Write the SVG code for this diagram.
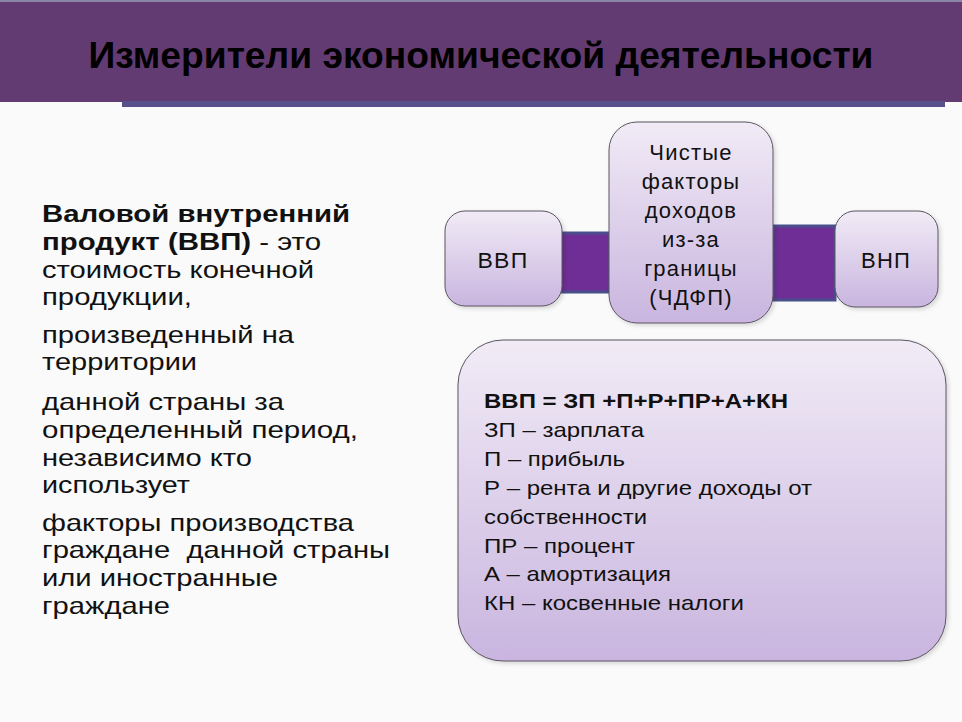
<svg xmlns="http://www.w3.org/2000/svg" width="962" height="722" viewBox="0 0 962 722">
<style>
.box{stroke:#5a5560;stroke-width:1}
.bar{fill:#6E2E96;stroke:#4B4E8C;stroke-width:3}
.t{font-family:"Liberation Sans",Arial,sans-serif;fill:#111}
.lt{font-size:24px}
.ct{font-size:22px;text-anchor:middle;letter-spacing:1.2px}
.bt{font-size:21px}
</style>
<defs>
<linearGradient id="g" x1="0" y1="0" x2="0" y2="1">
<stop offset="0" stop-color="#f1ebf6"/>
<stop offset="1" stop-color="#c9b5df"/>
</linearGradient>
<filter id="sh" x="-10%" y="-10%" width="130%" height="130%">
<feDropShadow dx="2" dy="2" stdDeviation="2" flood-color="#000" flood-opacity="0.15"/>
</filter>
</defs>
<rect width="962" height="722" fill="#fafafa"/>
<g id="header">
<rect x="0" y="0" width="962" height="102" fill="#633B73"/>
<rect x="0" y="0" width="962" height="2" fill="#8a86a8"/>
<rect x="122" y="101" width="823" height="6" fill="#58508a"/>
<text x="481" y="68" text-anchor="middle" font-family="'Liberation Sans',Arial,sans-serif" font-weight="bold" font-size="37" fill="#000" textLength="785" lengthAdjust="spacingAndGlyphs">Измерители экономической деятельности</text>
</g>
<g id="definition" class="t lt">
<text x="42" y="222" font-weight="bold" textLength="308" lengthAdjust="spacingAndGlyphs">Валовой внутренний</text>
<text x="42" y="250" textLength="279" lengthAdjust="spacingAndGlyphs"><tspan font-weight="bold">продукт (ВВП)</tspan> - это</text>
<text x="42" y="278" textLength="272" lengthAdjust="spacingAndGlyphs">стоимость конечной</text>
<text x="42" y="305" textLength="150" lengthAdjust="spacingAndGlyphs">продукции,</text>
<text x="42" y="343" textLength="252" lengthAdjust="spacingAndGlyphs">произведенный на</text>
<text x="42" y="370" textLength="155" lengthAdjust="spacingAndGlyphs">территории</text>
<text x="42" y="410" textLength="242" lengthAdjust="spacingAndGlyphs">данной страны за</text>
<text x="42" y="438" textLength="316" lengthAdjust="spacingAndGlyphs">определенный период,</text>
<text x="42" y="466" textLength="210" lengthAdjust="spacingAndGlyphs">независимо кто</text>
<text x="42" y="493" textLength="148" lengthAdjust="spacingAndGlyphs">использует</text>
<text x="42" y="531" textLength="312" lengthAdjust="spacingAndGlyphs">факторы производства</text>
<text x="42" y="558" xml:space="preserve" textLength="348" lengthAdjust="spacingAndGlyphs">граждане  данной страны</text>
<text x="42" y="586" textLength="236" lengthAdjust="spacingAndGlyphs">или иностранные</text>
<text x="42" y="614" textLength="128" lengthAdjust="spacingAndGlyphs">граждане</text>
</g>
<g id="connectors">
<rect class="bar" x="556" y="233" width="54" height="59"/>
<rect class="bar" x="773" y="226" width="62" height="74"/>
</g>
<g id="vvp">
<rect class="box" x="445" y="211" width="117" height="95" rx="20" fill="url(#g)" filter="url(#sh)"/>
<text class="t ct" x="503" y="268" textLength="51" lengthAdjust="spacingAndGlyphs">ВВП</text>
</g>
<g id="chdfp">
<rect class="box" x="609" y="122" width="164" height="201" rx="28" fill="url(#g)" filter="url(#sh)"/>
<text class="t ct" x="691" y="160">Чистые</text>
<text class="t ct" x="691" y="189">факторы</text>
<text class="t ct" x="691" y="218">доходов</text>
<text class="t ct" x="691" y="247">из-за</text>
<text class="t ct" x="691" y="276">границы</text>
<text class="t ct" x="691" y="305">(ЧДФП)</text>
</g>
<g id="vnp">
<rect class="box" x="835" y="211" width="103" height="96" rx="20" fill="url(#g)" filter="url(#sh)"/>
<text class="t ct" x="886" y="268" textLength="50" lengthAdjust="spacingAndGlyphs">ВНП</text>
</g>
<g id="formula">
<rect class="box" x="458" y="340" width="488" height="321" rx="45" fill="url(#g)" filter="url(#sh)"/>
<text class="t bt" x="484" y="408" font-weight="bold" textLength="304" lengthAdjust="spacingAndGlyphs">ВВП = ЗП +П+Р+ПР+А+КН</text>
<text class="t bt" x="484" y="437" textLength="160" lengthAdjust="spacingAndGlyphs">ЗП – зарплата</text>
<text class="t bt" x="484" y="466" textLength="141" lengthAdjust="spacingAndGlyphs">П – прибыль</text>
<text class="t bt" x="484" y="495" textLength="328" lengthAdjust="spacingAndGlyphs">Р – рента и другие доходы от</text>
<text class="t bt" x="484" y="524" textLength="163" lengthAdjust="spacingAndGlyphs">собственности</text>
<text class="t bt" x="484" y="553" textLength="151" lengthAdjust="spacingAndGlyphs">ПР – процент</text>
<text class="t bt" x="484" y="581" textLength="187" lengthAdjust="spacingAndGlyphs">А – амортизация</text>
<text class="t bt" x="484" y="610" textLength="260" lengthAdjust="spacingAndGlyphs">КН – косвенные налоги</text>
</g>
</svg>
